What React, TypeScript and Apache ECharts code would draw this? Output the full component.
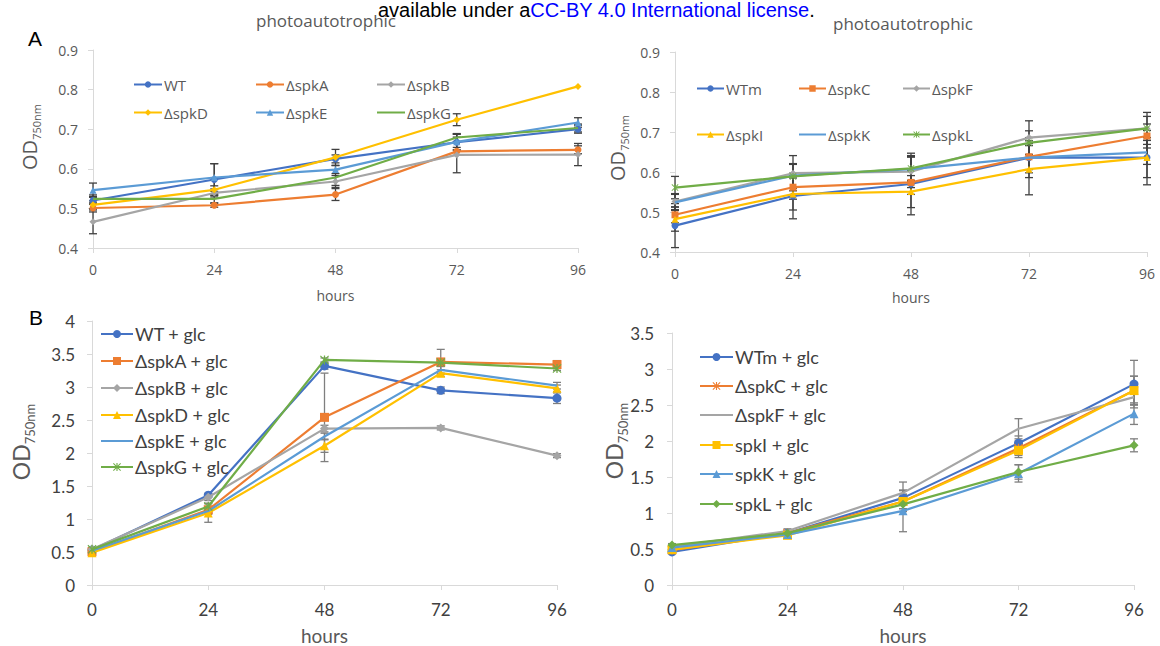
import React, { useEffect, useRef } from 'react';
import * as echarts from 'echarts';

// ---------- data ----------
const HOURS = [0, 24, 48, 72, 96];

// Panel A (left) – photoautotrophic
const namesA1 = ['WT', 'ΔspkA', 'ΔspkB', 'ΔspkD', 'ΔspkE', 'ΔspkG'];
const a1WT = [0.52, 0.573, 0.625, 0.667, 0.7];
const a1A = [0.501, 0.508, 0.535, 0.644, 0.648];
const a1B = [0.466, 0.539, 0.568, 0.635, 0.636];
const a1D = [0.509, 0.547, 0.629, 0.724, 0.808];
const a1E = [0.546, 0.578, 0.598, 0.668, 0.717];
const a1G = [0.524, 0.524, 0.578, 0.679, 0.703];
const a1WTerr = [0.01, 0.04, 0.01, 0.02, 0.01];
const a1Aerr = [0.01, 0.005, 0.015, 0.01, 0.01];
const a1Berr = [0.03, 0.01, 0.015, 0.045, 0.028];
const a1Derr = [0.01, 0.01, 0.02, 0.015, 0];
const a1Eerr = [0.018, 0.035, 0.01, 0.02, 0.012];
const a1Gerr = [0.01, 0.01, 0.02, 0.01, 0.01];

// Panel A (right) – photoautotrophic
const namesA2 = ['WTm', 'ΔspkC', 'ΔspkF', 'ΔspkI', 'ΔspkK', 'ΔspkL'];
const a2WTm = [0.466, 0.54, 0.57, 0.636, 0.636];
const a2C = [0.493, 0.562, 0.574, 0.638, 0.69];
const a2F = [0.526, 0.597, 0.601, 0.686, 0.709];
const a2I = [0.482, 0.545, 0.551, 0.607, 0.636];
const a2K = [0.524, 0.591, 0.607, 0.636, 0.649];
const a2L = [0.561, 0.589, 0.609, 0.673, 0.709];
const a2WTmErr = [0.055, 0.057, 0.077, 0.05, 0.05];
const a2Cerr = [0.02, 0.03, 0.03, 0.04, 0.03];
const a2Ferr = [0.02, 0.044, 0.04, 0.042, 0.04];
const a2Ierr = [0.03, 0.04, 0.04, 0.064, 0.068];
const a2Kerr = [0.02, 0.03, 0.03, 0.03, 0.03];
const a2Lerr = [0.028, 0.03, 0.03, 0.03, 0.03];

// Panel B (left) – with glucose
const namesB1 = ['WT + glc', 'ΔspkA + glc', 'ΔspkB + glc', 'ΔspkD + glc', 'ΔspkE + glc', 'ΔspkG + glc'];
const b1WT = [0.53, 1.36, 3.32, 2.95, 2.83];
const b1A = [0.505, 1.14, 2.54, 3.38, 3.34];
const b1B = [0.54, 1.33, 2.37, 2.38, 1.96];
const b1D = [0.49, 1.09, 2.11, 3.21, 2.98];
const b1E = [0.52, 1.12, 2.25, 3.26, 3.02];
const b1G = [0.54, 1.19, 3.41, 3.37, 3.28];
const b1WTerr = [0.03, 0.03, 0.05, 0.05, 0.08];
const b1Aerr = [0.02, 0.05, 0.67, 0.19, 0.06];
const b1Berr = [0.02, 0.05, 0.05, 0.03, 0.03];
const b1Derr = [0.02, 0.14, 0.1, 0.05, 0.05];
const b1Eerr = [0.02, 0.05, 0.05, 0.05, 0.05];
const b1Gerr = [0.02, 0.05, 0.03, 0.03, 0.03];

// Panel B (right) – with glucose
const namesB2 = ['WTm + glc', 'ΔspkC + glc', 'ΔspkF + glc', 'spkI + glc', 'spkK + glc', 'spkL + glc'];
const b2WTm = [0.46, 0.72, 1.21, 1.97, 2.79];
const b2C = [0.485, 0.72, 1.16, 1.9, 2.7];
const b2F = [0.53, 0.75, 1.28, 2.17, 2.61];
const b2I = [0.49, 0.69, 1.16, 1.87, 2.7];
const b2K = [0.52, 0.7, 1.03, 1.55, 2.38];
const b2L = [0.555, 0.72, 1.12, 1.57, 1.94];
const b2WTmErr = [0.02, 0.03, 0.1, 0.1, 0.33];
const b2Cerr = [0.02, 0.03, 0.1, 0.1, 0.2];
const b2Ferr = [0.02, 0.03, 0.15, 0.14, 0.1];
const b2Ierr = [0.02, 0.03, 0.1, 0.1, 0.2];
const b2Kerr = [0.02, 0.03, 0.29, 0.12, 0.15];
const b2Lerr = [0.02, 0.03, 0.1, 0.1, 0.09];

const X_NAME = 'hours';
const TITLE = 'photoautotrophic';
const Y_NAME_MAIN = 'OD';
const Y_NAME_SUB = '750nm';

// ---------- styles / layout ----------
const COLORS = ['#4472C4', '#ED7D31', '#A5A5A5', '#FFC000', '#5B9BD5', '#70AD47'];
const ASTER =
  'path://M4.3,0h1.4v10h-1.4z M0.9,0L5,4.1L9.1,0L10,0.9L5.9,5L10,9.1L9.1,10L5,5.9L0.9,10L0,9.1L4.1,5L0,0.9Z';

const panels = [
  {
    names: namesA1,
    values: [a1WT, a1A, a1B, a1D, a1E, a1G],
    errors: [a1WTerr, a1Aerr, a1Berr, a1Derr, a1Eerr, a1Gerr],
    symbols: ['circle', 'circle', 'diamond', 'diamond', 'triangle', 'none'],
    grid: { left: 93, top: 50, width: 485, height: 198 },
    y: { min: 0.4, max: 0.9, interval: 0.1, dec: 1 },
    legendLeft: [133, 255, 376, 133, 255, 376],
    legendMid: [86, 86, 86, 114, 114, 114],
    legendIconW: 28,
    font: 'Open Sans',
    tickSize: 14,
    legendSize: 15,
    symbolSize: 7,
    textColor: '#595959',
    errColor: '#404040',
    yLabelMargin: 15,
    xLabelMargin: 14,
    nameGap: 40,
    nameSize: 14,
    od: { x: 30, y: 137, main: 20, sub: 11 },
  },
  {
    names: namesA2,
    values: [a2WTm, a2C, a2F, a2I, a2K, a2L],
    errors: [a2WTmErr, a2Cerr, a2Ferr, a2Ierr, a2Kerr, a2Lerr],
    symbols: ['circle', 'rect', 'diamond', 'triangle', 'none', ASTER],
    grid: { left: 675, top: 52, width: 472, height: 200 },
    y: { min: 0.4, max: 0.9, interval: 0.1, dec: 1 },
    legendLeft: [696, 798, 902, 696, 798, 902],
    legendMid: [90, 90, 90, 136, 136, 136],
    legendIconW: 27,
    font: 'Open Sans',
    tickSize: 14,
    legendSize: 15,
    symbolSize: 7,
    textColor: '#595959',
    errColor: '#404040',
    yLabelMargin: 15,
    xLabelMargin: 14,
    nameGap: 38,
    nameSize: 14,
    od: { x: 618, y: 148, main: 20, sub: 11 },
  },
  {
    names: namesB1,
    values: [b1WT, b1A, b1B, b1D, b1E, b1G],
    errors: [b1WTerr, b1Aerr, b1Berr, b1Derr, b1Eerr, b1Gerr],
    symbols: ['circle', 'rect', 'diamond', 'triangle', 'none', ASTER],
    grid: { left: 92, top: 321, width: 465, height: 264 },
    y: { min: 0, max: 4, interval: 0.5, dec: -1 },
    legendLeft: [100, 100, 100, 100, 100, 100],
    legendMid: [336, 363, 390, 417, 443, 469],
    legendIconW: 32,
    font: 'Lato',
    tickSize: 17,
    legendSize: 18,
    symbolSize: 9,
    textColor: '#404040',
    errColor: '#7f7f7f',
    yLabelMargin: 17,
    xLabelMargin: 16,
    nameGap: 41,
    nameSize: 19,
    od: { x: 22, y: 442, main: 23, sub: 13 },
  },
  {
    names: namesB2,
    values: [b2WTm, b2C, b2F, b2I, b2K, b2L],
    errors: [b2WTmErr, b2Cerr, b2Ferr, b2Ierr, b2Kerr, b2Lerr],
    symbols: ['circle', ASTER, 'none', 'rect', 'triangle', 'diamond'],
    grid: { left: 672, top: 333, width: 462, height: 252 },
    y: { min: 0, max: 3.5, interval: 0.5, dec: -1 },
    legendLeft: [699, 699, 699, 699, 699, 699],
    legendMid: [359, 388, 417, 447, 476, 506],
    legendIconW: 33,
    font: 'Lato',
    tickSize: 17,
    legendSize: 18,
    symbolSize: 9,
    textColor: '#404040',
    errColor: '#7f7f7f',
    yLabelMargin: 18,
    xLabelMargin: 16,
    nameGap: 41,
    nameSize: 19,
    od: { x: 615, y: 441, main: 23, sub: 13 },
  },
];

function buildOption(): any {
  const axisLine = { show: true, lineStyle: { color: '#d9d9d9', width: 1 } };
  const axisTick = { show: true, length: 5, lineStyle: { color: '#d9d9d9', width: 1 } };

  const grid = panels.map((p) => ({ ...p.grid, containLabel: false }));

  const xAxis = panels.map((p, i) => ({
    type: 'value',
    gridIndex: i,
    min: 0,
    max: 96,
    interval: 24,
    name: X_NAME,
    nameLocation: 'middle',
    nameGap: p.nameGap,
    nameTextStyle: { color: '#595959', fontSize: p.nameSize, fontFamily: p.font },
    axisLine,
    axisTick,
    splitLine: { show: false },
    axisLabel: { color: p.textColor, fontSize: p.tickSize, fontFamily: p.font, margin: p.xLabelMargin },
  }));

  const yAxis = panels.map((p, i) => ({
    type: 'value',
    gridIndex: i,
    min: p.y.min,
    max: p.y.max,
    interval: p.y.interval,
    axisLine,
    axisTick,
    splitLine: { show: false },
    axisLabel: {
      color: p.textColor,
      fontSize: p.tickSize,
      fontFamily: p.font,
      margin: p.yLabelMargin,
      formatter: (v: number) => (p.y.dec >= 0 ? v.toFixed(p.y.dec) : String(Math.round(v * 10) / 10)),
    },
  }));

  const series: any[] = [];
  panels.forEach((p, i) => {
    const errData: number[][] = [];
    p.values.forEach((vals, k) => {
      p.errors[k].forEach((e, j) => {
        if (e > 0) errData.push([HOURS[j], vals[j] - e, vals[j] + e]);
      });
    });
    series.push({
      type: 'custom',
      name: 'error-' + i,
      xAxisIndex: i,
      yAxisIndex: i,
      silent: true,
      z: 1,
      data: errData,
      encode: { x: 0, y: [1, 2] },
      renderItem: (params: any, api: any) => {
        const x = api.value(0);
        const lo = api.coord([x, api.value(1)]);
        const hi = api.coord([x, api.value(2)]);
        const w = 4;
        const st = { stroke: p.errColor, lineWidth: 1.3 };
        return {
          type: 'group',
          children: [
            { type: 'line', shape: { x1: lo[0], y1: lo[1], x2: hi[0], y2: hi[1] }, style: st },
            { type: 'line', shape: { x1: lo[0] - w, y1: lo[1], x2: lo[0] + w, y2: lo[1] }, style: st },
            { type: 'line', shape: { x1: hi[0] - w, y1: hi[1], x2: hi[0] + w, y2: hi[1] }, style: st },
          ],
        };
      },
    });
    p.values.forEach((vals, k) => {
      series.push({
        type: 'line',
        name: p.names[k],
        xAxisIndex: i,
        yAxisIndex: i,
        z: 2 + k,
        data: HOURS.map((h, j) => [h, vals[j]]),
        symbol: p.symbols[k],
        symbolSize: p.symbolSize,
        showSymbol: p.symbols[k] !== 'none',
        lineStyle: { color: COLORS[k], width: 2.2 },
        itemStyle: { color: COLORS[k] },
        emphasis: { disabled: true },
      });
    });
  });

  const legend: any[] = [];
  panels.forEach((p) => {
    p.names.forEach((n, k) => {
      const noMarker = p.symbols[k] === 'none';
      legend.push({
        data: [
          noMarker
            ? { name: n, itemStyle: { color: 'rgba(0,0,0,0)', borderColor: 'rgba(0,0,0,0)', opacity: 0 } }
            : { name: n },
        ],
        left: p.legendLeft[k],
        top: p.legendMid[k] - Math.round(p.legendSize * 0.62),
        padding: 0,
        itemGap: 0,
        itemWidth: p.legendIconW,
        itemHeight: p.symbolSize + 1,
        selectedMode: false,
        textStyle: { color: p.textColor, fontSize: p.legendSize, fontFamily: p.font, padding: [0, 0, 0, -3] },
      });
    });
  });

  const graphic: any[] = [
    {
      type: 'text',
      x: 378,
      y: 0,
      style: {
        text: '{k|available under a}{u|CC-BY 4.0 International license}{k|.}',
        rich: {
          k: { fill: '#000000', fontSize: 20, fontFamily: 'Liberation Sans' },
          u: { fill: '#0000ff', fontSize: 20, fontFamily: 'Liberation Sans' },
        },
        verticalAlign: 'top',
      },
    },
    {
      type: 'text',
      x: 326,
      y: 20,
      style: { text: TITLE, fill: '#595959', fontSize: 17, fontFamily: 'Open Sans', align: 'center', verticalAlign: 'middle' },
    },
    {
      type: 'text',
      x: 903,
      y: 23,
      style: { text: TITLE, fill: '#595959', fontSize: 17, fontFamily: 'Open Sans', align: 'center', verticalAlign: 'middle' },
    },
    {
      type: 'text',
      x: 35,
      y: 38,
      style: { text: 'A', fill: '#000000', fontSize: 21, fontFamily: 'Liberation Sans', align: 'center', verticalAlign: 'middle' },
    },
    {
      type: 'text',
      x: 36,
      y: 317,
      style: { text: 'B', fill: '#000000', fontSize: 21, fontFamily: 'Liberation Sans', align: 'center', verticalAlign: 'middle' },
    },
  ];
  panels.forEach((p) => {
    graphic.push({
      type: 'text',
      x: p.od.x,
      y: p.od.y,
      rotation: Math.PI / 2,
      style: {
        text: '{a|' + Y_NAME_MAIN + '}{b|' + Y_NAME_SUB + '}',
        rich: {
          a: { fill: '#595959', fontSize: p.od.main, fontFamily: p.font, lineHeight: p.od.main + 2, verticalAlign: 'top' },
          b: {
            fill: '#595959',
            fontSize: p.od.sub,
            fontFamily: p.font,
            lineHeight: p.od.sub,
            verticalAlign: 'top',
            padding: [Math.round(p.od.main * 0.62), 0, 0, 0],
          },
        },
        align: 'center',
        verticalAlign: 'middle',
      },
    });
  });

  return {
    animation: false,
    backgroundColor: '#ffffff',
    grid,
    xAxis,
    yAxis,
    legend,
    series,
    graphic,
  };
}

export default function App() {
  const ref = useRef<HTMLDivElement>(null);
  useEffect(() => {
    if (!ref.current) return;
    const chart = echarts.init(ref.current, null, { renderer: 'svg' });
    chart.setOption(buildOption());
    return () => chart.dispose();
  }, []);
  return (
    <div
      ref={ref}
      style={{ position: 'fixed', left: 0, top: 0, width: 1160, height: 646, background: '#ffffff' }}
    />
  );
}
